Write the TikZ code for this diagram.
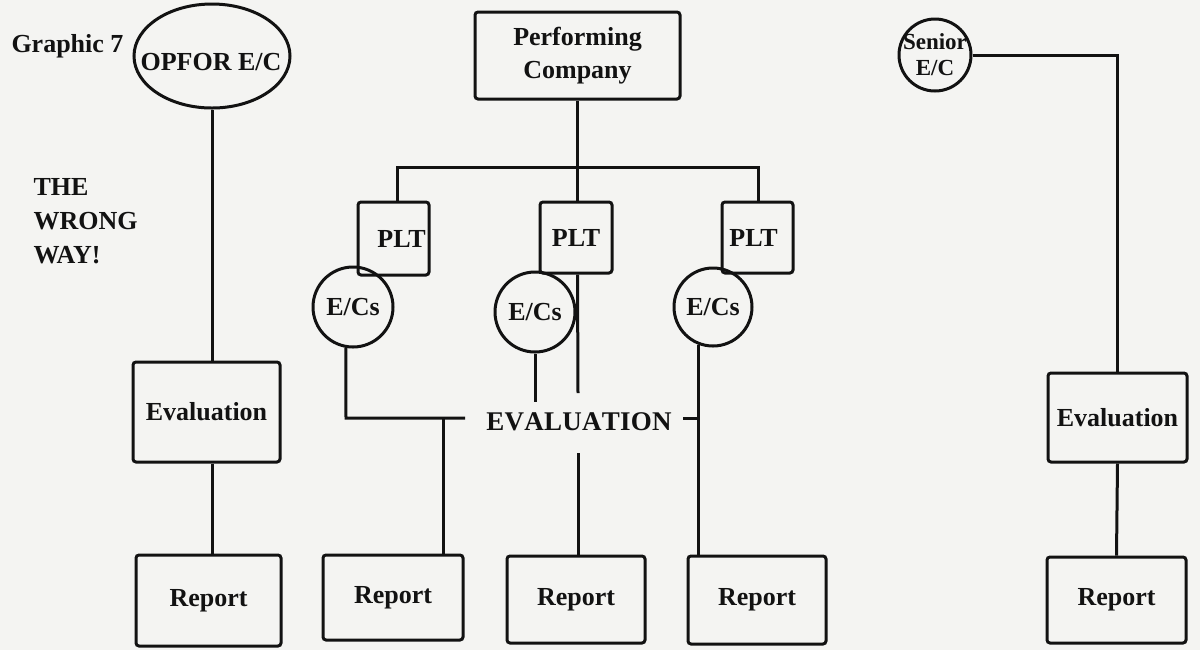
\documentclass[tikz,border=0pt]{standalone}
\usepackage{fontspec}
\setmainfont{Liberation Serif}
\usetikzlibrary{shapes.geometric}
\definecolor{ink}{RGB}{18,18,18}
\definecolor{paper}{RGB}{244,244,242}
\begin{document}
\begin{tikzpicture}[x=0.5pt,y=-0.5pt,line width=1.5pt,color=ink,
  font=\fontsize{13}{16}\selectfont\bfseries,
  box/.style={draw=ink,rounded corners=1.5pt,inner sep=0pt},
  circ/.style={draw=ink,circle,inner sep=0pt},
  oval/.style={draw=ink,ellipse,inner sep=0pt},
  plain/.style={inner sep=0pt}]
\fill[paper] (0,0) rectangle (1200,650);
\useasboundingbox (0,0) rectangle (1200,650);

% titles
\node[plain,anchor=base west] (graphic) at (10,52) {Graphic 7};
\node[plain,anchor=north west,align=left,font=\fontsize{13}{17}\selectfont\bfseries] (wrong) at (32,177) {THE\\WRONG\\WAY!};

% top row
\node[oval,minimum width=78pt,minimum height=52pt] (opfor) at (212,56) {};
\node[plain] (opfortext) at (211,62) {OPFOR E/C};
\node[box,minimum width=102.5pt,minimum height=43.5pt,align=center,font=\fontsize{13}{16.5}\selectfont\bfseries] (perf) at (577.5,55.5) {Performing\\Company};
\node[circ,minimum size=36pt] (senior) at (935,55) {};
\node[plain,align=center,font=\fontsize{11.5}{13}\selectfont\bfseries] (seniortext) at (935,55) {Senior\\E/C};

% platoons
\node[box,minimum width=35.5pt,minimum height=36.5pt] (pltL) at (393.5,238.5) {\hspace*{8pt}\raisebox{-2pt}{PLT}};
\node[box,minimum width=36pt,minimum height=35.5pt] (pltM) at (576,237.5) {\raisebox{-2.5pt}{PLT}};
\node[box,minimum width=35.5pt,minimum height=35.5pt] (pltR) at (757.5,237.5) {\raisebox{-3pt}{PLT}\hspace*{4pt}};

% E/Cs
\node[circ,minimum size=40pt] (ecL) at (353,307) {E/Cs};
\node[circ,minimum size=40pt] (ecM) at (535,312) {E/Cs};
\node[circ,minimum size=39pt] (ecR) at (713,307) {E/Cs};

% evaluations
\node[box,minimum width=73.5pt,minimum height=50pt] (evalL) at (206.5,412) {Evaluation};
\node[plain,font=\fontsize{13.5}{16}\selectfont\bfseries] (evtext) at (579,422) {E\kern0.12pt V\kern0.12pt A\kern0.12pt L\kern0.12pt U\kern0.12pt A\kern0.12pt T\kern0.12pt I\kern0.12pt O\kern0.12pt N};
\node[box,minimum width=69.5pt,minimum height=44.5pt] (evalR) at (1117.5,417.5) {Evaluation};

% reports
\node[box,minimum width=72.5pt,minimum height=45.5pt] (rep1) at (208.5,600.5) {Report};
\node[box,minimum width=70pt,minimum height=42.5pt] (rep2) at (393,597.5) {Report};
\node[box,minimum width=69pt,minimum height=43.5pt] (rep3) at (576,599.5) {Report};
\node[box,minimum width=69pt,minimum height=44pt] (rep4) at (757,600) {Report};
\node[box,minimum width=69.5pt,minimum height=43pt] (rep5) at (1116.5,600) {Report};

% coordinates
\coordinate (busL) at (397,167);
\coordinate (busR) at (758,167);
\coordinate (opx) at (212,0);
\coordinate (mTop) at (578,393);
\coordinate (mBot) at (578,453);
\coordinate (jL) at (346,418);
\coordinate (jLend) at (465,418);
\coordinate (jL2) at (443,418);
\coordinate (ecMend) at (535,402);
\coordinate (tick) at (683,418);

% OPFOR chain
\draw (opfor.south) -- (opfor.south |- evalL.north);
\draw (opx |- evalL.south) -- (opx |- rep1.north);

% company bus
\draw (perf.south) -- (perf.south |- pltM.north);
\draw (busL |- pltL.north) -- (busL) -- (busR) -- (busR |- pltR.north);
\draw (perf.south |- pltM.south) -- (mTop);
\draw (mBot) -- (mBot |- rep3.north);

% left E/Cs
\draw (ecL.260) -- (jL) -- (jLend);
\draw (jL2) -- (jL2 |- rep2.north);
% middle E/Cs
\draw (ecM.south) -- (ecMend);
% right E/Cs
\draw (ecR.249) -- (ecR.249 |- rep4.north);
\draw (tick) -- (ecR.249 |- tick);

% senior
\draw (senior.east) -| (evalR.north);
\draw (evalR.south) -- (rep5.north);
\end{tikzpicture}
\end{document}
